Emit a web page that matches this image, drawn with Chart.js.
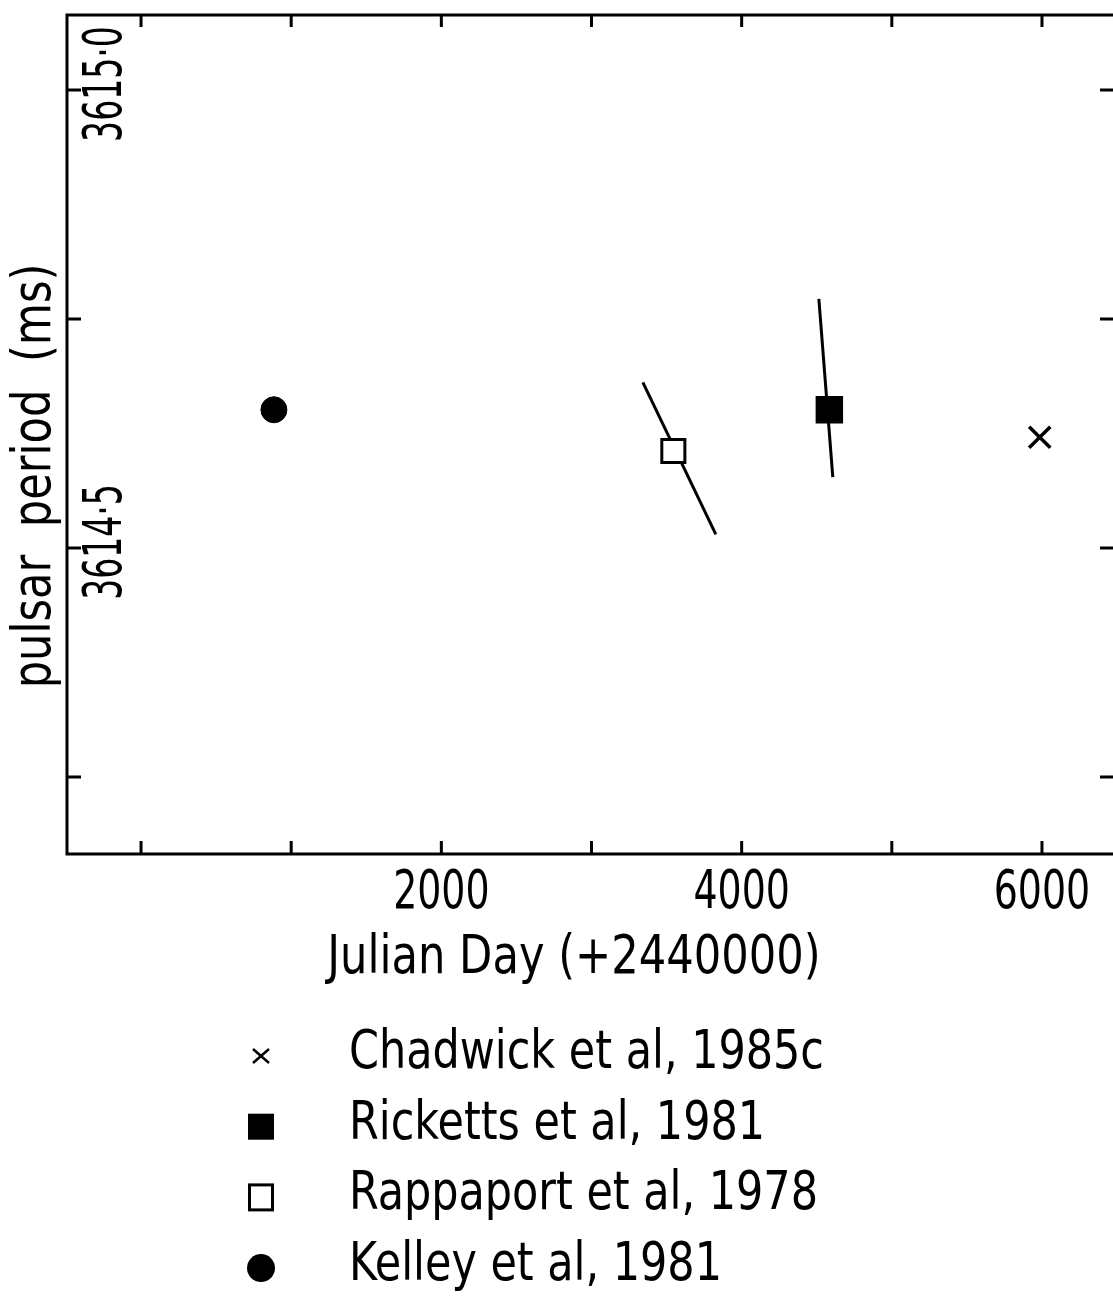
<!DOCTYPE html>
<html>
<head>
<meta charset="utf-8">
<script src="https://cdn.jsdelivr.net/npm/chart.js@4.4.0/dist/chart.umd.min.js"></script>
<style>
  html, body { margin: 0; padding: 0; background: #fff; overflow: hidden; }
  #wrap { width: 1113px; height: 1297px; }
</style>
</head>
<body>
<div id="wrap"><canvas id="pulsarChart" width="1113" height="1297"></canvas></div>
<script>
// Data (Julian Day - 2440000, period in ms)
const sources = ['Chadwick et al, 1985c', 'Ricketts et al, 1981', 'Rappaport et al, 1978', 'Kelley et al, 1981'];
const epochs = [5985, 4584, 3545, 885];
const periods = [3614.621, 3614.651, 3614.606, 3614.651];

// Period-derivative bars through the Rappaport and Ricketts points
const rappaportBarX = [3342, 3828];
const rappaportBarY = [3614.681, 3614.515];
const rickettsBarX = [4514, 4607];
const rickettsBarY = [3614.772, 3614.5775];

// Axes
const xRange = [-493, 6473];
const yRange = [3614.166, 3615.082];
const xTicks = [0, 1000, 2000, 3000, 4000, 5000, 6000];
const xTickLabels = ['', '', '2000', '', '4000', '', '6000'];
const yTicks = [3614.25, 3614.5, 3614.75, 3615.0];
const yTickLabels = ['', '3614\u00B75', '', '3615\u00B70'];
const xTitle = 'Julian Day (+2440000)';
const yTitle = 'pulsar  period  (ms)';

const FONT = '"DejaVu Sans Condensed", "DejaVu Sans", sans-serif';

function pts(xs, ys) {
  return xs.map((x, i) => ({ x: x, y: ys[i] }));
}

// text squeezed horizontally to get the narrow lettering of the original
function squeezed(ctx, text, x, y, sx, angle) {
  ctx.save();
  ctx.translate(x, y);
  if (angle) ctx.rotate(angle);
  ctx.scale(sx, 1);
  ctx.fillText(text, 0, 0);
  ctx.restore();
}

// small marker painter used for the legend
function drawMarker(ctx, kind, cx, cy) {
  ctx.save();
  ctx.strokeStyle = '#000';
  ctx.fillStyle = '#000';
  if (kind === 'cross') {
    ctx.lineWidth = 2.5;
    ctx.beginPath();
    ctx.moveTo(cx - 8, cy - 7); ctx.lineTo(cx + 8, cy + 7);
    ctx.moveTo(cx + 8, cy - 7); ctx.lineTo(cx - 8, cy + 7);
    ctx.stroke();
  } else if (kind === 'filled') {
    ctx.fillRect(cx - 13, cy - 13, 26, 26);
  } else if (kind === 'open') {
    ctx.lineWidth = 3;
    ctx.strokeRect(cx - 11.5, cy - 12.5, 23, 25);
  } else {
    ctx.beginPath();
    ctx.arc(cx, cy, 14, 0, Math.PI * 2);
    ctx.fill();
  }
  ctx.restore();
}
const legendKinds = ['cross', 'filled', 'open', 'circle'];

const frameAndText = {
  id: 'frameAndText',
  afterDraw(chart) {
    const { ctx, chartArea: a, scales: { x, y } } = chart;
    ctx.save();
    ctx.strokeStyle = '#000';
    ctx.fillStyle = '#000';

    // frame (right side is off the picture)
    ctx.lineWidth = 3;
    ctx.beginPath();
    ctx.moveTo(a.right, a.top);
    ctx.lineTo(a.left, a.top);
    ctx.lineTo(a.left, a.bottom);
    ctx.lineTo(a.right, a.bottom);
    ctx.stroke();

    // inward ticks
    ctx.lineWidth = 3;
    xTicks.forEach(v => {
      const px = x.getPixelForValue(v);
      ctx.beginPath();
      ctx.moveTo(px, a.bottom); ctx.lineTo(px, a.bottom - 13);
      ctx.moveTo(px, a.top); ctx.lineTo(px, a.top + 12);
      ctx.stroke();
    });
    yTicks.forEach(v => {
      const py = y.getPixelForValue(v);
      ctx.beginPath();
      ctx.moveTo(a.left, py); ctx.lineTo(a.left + 14, py);
      ctx.moveTo(a.right, py); ctx.lineTo(a.right - 13, py);
      ctx.stroke();
    });

    // x tick labels
    ctx.font = '54px ' + FONT;
    ctx.textAlign = 'center';
    ctx.textBaseline = 'alphabetic';
    xTicks.forEach((v, i) => {
      if (xTickLabels[i]) squeezed(ctx, xTickLabels[i], x.getPixelForValue(v), a.bottom + 54, 0.78);
    });

    // y tick labels, rotated, inside the frame
    ctx.textBaseline = 'middle';
    yTicks.forEach((v, i) => {
      if (yTickLabels[i]) squeezed(ctx, yTickLabels[i], a.left + 40, y.getPixelForValue(v) - 6, 0.68, -Math.PI / 2);
    });

    // axis titles
    ctx.textBaseline = 'alphabetic';
    squeezed(ctx, xTitle, 574, a.bottom + 119, 0.89);
    squeezed(ctx, yTitle, 50, 476, 0.89, -Math.PI / 2);

    // legend
    ctx.font = '53px ' + FONT;
    ctx.textAlign = 'left';
    sources.forEach((s, i) => {
      const base = 1068 + i * 70.7;
      drawMarker(ctx, legendKinds[i], 261, base - 12);
      squeezed(ctx, s, 349, base, 0.9);
    });
    ctx.restore();
  }
};

const ctx = document.getElementById('pulsarChart').getContext('2d');
const chart = new Chart(ctx, {
  type: 'scatter',
  data: {
    datasets: [
      {
        label: sources[0],
        data: [{ x: epochs[0], y: periods[0] }],
        pointStyle: 'crossRot',
        pointRadius: 15,
        borderColor: '#000',
        borderWidth: 3.5,
        order: 0
      },
      {
        label: sources[1],
        data: [{ x: epochs[1], y: periods[1] }],
        pointStyle: 'rect',
        pointRadius: 18,
        backgroundColor: '#000',
        borderColor: '#000',
        borderWidth: 2,
        order: 0
      },
      {
        label: sources[2],
        data: [{ x: epochs[2], y: periods[2] }],
        pointStyle: 'rect',
        pointRadius: 16.3,
        backgroundColor: '#fff',
        borderColor: '#000',
        borderWidth: 3,
        order: 0
      },
      {
        label: sources[3],
        data: [{ x: epochs[3], y: periods[3] }],
        pointStyle: 'circle',
        pointRadius: 13,
        backgroundColor: '#000',
        borderColor: '#000',
        borderWidth: 1,
        order: 0
      },
      {
        label: 'Rappaport Pdot',
        data: pts(rappaportBarX, rappaportBarY),
        showLine: true,
        pointRadius: 0,
        borderColor: '#000',
        borderWidth: 3,
        order: 10
      },
      {
        label: 'Ricketts Pdot',
        data: pts(rickettsBarX, rickettsBarY),
        showLine: true,
        pointRadius: 0,
        borderColor: '#000',
        borderWidth: 3,
        order: 10
      }
    ]
  },
  options: {
    responsive: false,
    animation: false,
    devicePixelRatio: 1,
    events: [],
    layout: { autoPadding: false, padding: { left: 0, top: 15, right: 0, bottom: 0 } },
    plugins: { legend: { display: false }, tooltip: { enabled: false } },
    scales: {
      x: {
        type: 'linear',
        min: xRange[0],
        max: xRange[1],
        grid: { display: false },
        border: { display: false },
        ticks: { display: false },
        afterFit: s => { s.height = 443; }
      },
      y: {
        type: 'linear',
        min: yRange[0],
        max: yRange[1],
        grid: { display: false },
        border: { display: false },
        ticks: { display: false },
        afterFit: s => { s.width = 67; }
      }
    }
  },
  plugins: [frameAndText]
});
</script>
</body>
</html>
